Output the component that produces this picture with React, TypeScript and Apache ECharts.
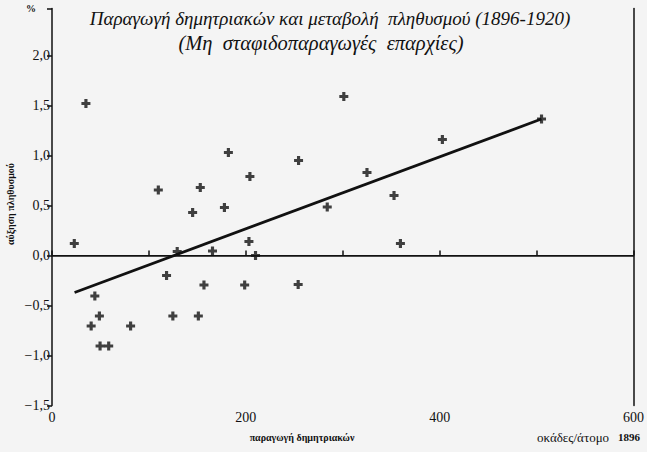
import React, { useEffect, useRef } from "react";
import * as echarts from "echarts";

// Cereal production (okades per person, 1896) vs population change (%)
const production: number[] = [
  23, 35, 44.2, 48.9, 40.4, 49.6, 58.5, 81.1, 109.7, 118.2, 124.7, 129.2, 145.1, 151, 153, 156.8,
  165.6, 177.9, 182, 198.8, 203.2, 204.2, 210, 254.4, 254, 284, 301.1, 325, 352.9, 359.5, 402.8, 505.1,
];
const popChange: number[] = [
  0.12, 1.52, -0.405, -0.605, -0.705, -0.905, -0.905, -0.705, 0.655, -0.2, -0.605, 0.04, 0.43, -0.605, 0.68, -0.295,
  0.045, 0.48, 1.03, -0.295, 0.14, 0.79, 0.0, 0.95, -0.29, 0.485, 1.59, 0.83, 0.6, 0.12, 1.16, 1.365,
];
const trendX: number[] = [23.3, 505];
const trendY: number[] = [-0.37, 1.365];

const titleLine1 = "Παραγωγή δημητριακών και μεταβολή  πληθυσμού (1896-1920)";
const titleLine2 = "(Μη  σταφιδοπαραγωγές  επαρχίες)";
const yName = "αύξηση πληθυσμού";
const xName = "παραγωγή δημητριακών";
const unitText = "οκάδες/άτομο";
const yearText = "1896";

const FONT = "Liberation Serif";
const INK = "#111111";
const BG = "#f4f4f4";

const fmtY = (v: number) => {
  if (Math.abs(v * 2 - Math.round(v * 2)) > 1e-6) return "";
  return v.toFixed(1).replace(".", ",").replace("-", "\u2212");
};

const txt = (
  text: string,
  x: number,
  y: number,
  size: number,
  opts: { style?: string; weight?: string; align?: string; rotation?: number } = {}
) => ({
  type: "text",
  x,
  y,
  rotation: opts.rotation || 0,
  style: {
    text,
    fontFamily: FONT,
    fontSize: size,
    fontStyle: opts.style || "normal",
    fontWeight: opts.weight || "normal",
    fill: INK,
    textAlign: opts.align || "center",
    textVerticalAlign: "middle",
  },
});

export default function App() {
  const ref = useRef<HTMLDivElement>(null);
  useEffect(() => {
    if (!ref.current) return;
    const chart = echarts.init(ref.current, undefined, { renderer: "svg" });
    const pts = production.map((x, i) => [x, popChange[i]]);
    const trend = trendX.map((x, i) => [x, trendY[i]]);
    chart.setOption({
      animation: false,
      backgroundColor: BG,
      textStyle: { fontFamily: FONT },
      grid: { left: 52, right: 9.5, top: 8.5, bottom: 46.5, containLabel: false },
      xAxis: {
        type: "value",
        min: 0,
        max: 600,
        interval: 100,
        axisLine: { show: true, lineStyle: { color: INK, width: 1.5 } },
        axisTick: { show: true, inside: true, length: 5, lineStyle: { color: INK, width: 1.5 } },
        axisLabel: {
          color: INK,
          fontFamily: FONT,
          fontSize: 14,
          margin: 5,
          formatter: (v: number) => (v % 200 === 0 ? String(v) : ""),
        },
        splitLine: { show: false },
      },
      yAxis: [
        {
          type: "value",
          min: -1.5,
          max: 2.47,
          interval: 0.5,
          axisLine: { show: true, lineStyle: { color: INK, width: 1.5 } },
          axisTick: { show: true, inside: false, length: 5, lineStyle: { color: INK, width: 1.5 } },
          axisLabel: { color: INK, fontFamily: FONT, fontSize: 14, margin: 2, formatter: fmtY },
          splitLine: { show: false },
        },
        {
          type: "value",
          position: "right",
          min: -1.5,
          max: 2.47,
          interval: 0.5,
          axisLine: { show: true, lineStyle: { color: INK, width: 1.5 } },
          axisTick: { show: false },
          axisLabel: { show: false },
          splitLine: { show: false },
        },
      ],
      series: [
        {
          type: "scatter",
          yAxisIndex: 0,
          data: pts,
          symbol: "path://M2.6,0H5.4V2.6H8V5.4H5.4V8H2.6V5.4H0V2.6H2.6Z",
          symbolSize: 9,
          itemStyle: { color: INK },
          markLine: {
            silent: true,
            symbol: "none",
            label: { show: false },
            lineStyle: { color: INK, width: 1.2, type: "solid" },
            data: [{ yAxis: 0 }],
          },
        },
        {
          type: "line",
          yAxisIndex: 0,
          data: trend,
          symbol: "none",
          lineStyle: { color: INK, width: 2.8 },
        },
      ],
      graphic: [
        txt(titleLine1, 330, 18, 19, { style: "italic" }),
        txt(titleLine2, 321, 43, 20.5, { style: "italic" }),
        txt("%", 31, 8, 10, { weight: "bold" }),
        txt(yName, 10, 204, 10, { weight: "bold", rotation: Math.PI / 2 }),
        txt(xName, 302, 437, 10, { weight: "bold" }),
        txt(unitText, 537, 437, 13, { align: "left" }),
        txt(yearText, 640, 437, 11, { weight: "bold", align: "right" }),
      ],
    });
    return () => chart.dispose();
  }, []);
  return (
    <div
      ref={ref}
      style={{ position: "fixed", left: 0, top: 0, width: 647, height: 452, background: BG }}
    />
  );
}
